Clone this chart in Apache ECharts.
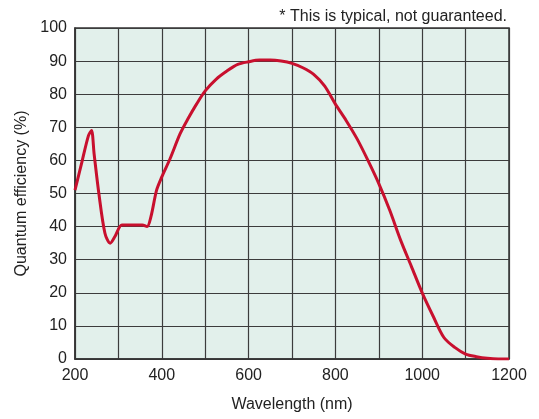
<!DOCTYPE html>
<html><head><meta charset="utf-8">
<script src="https://cdn.jsdelivr.net/npm/echarts@6/dist/echarts.min.js"></script>
<style>html,body{margin:0;padding:0;background:#fff}#c{width:539px;height:419px}</style>
</head><body><div id="c"></div>
<script>
var wavelengths = [200,215,231,238,244,255,269,281,292,308,325,342,355,366,375,388,400,419,442,460,480,500,525,550,575,600,625,650,675,700,725,750,775,800,825,850,875,900,925,950,975,1000,1025,1050,1075,1100,1125,1150,1175,1200];
var efficiency = [51,59,67.5,69,62,50,38,35,37,40.5,40.5,40.5,40.5,40,43,51,55,60.5,68,72.5,77,81,84.5,87,89,89.8,90.3,90.3,90,89.3,88,86,82.5,77,72,66.5,60,53,45,36,28,20,13,6.5,3.5,1.5,0.7,0.2,0,0];
var xTicks = [200,400,600,800,1000,1200];
var yTicks = [0,10,20,30,40,50,60,70,80,90,100];
var note = '* This is typical, not guaranteed.';

var chart = echarts.init(document.getElementById('c'));
var font = 'Liberation Sans, Arial, sans-serif';
chart.setOption({
  animation:false,
  textStyle:{fontFamily:font},
  title:{text:note,right:27,top:4,textStyle:{fontSize:16,fontWeight:'normal',color:'#222',fontFamily:font}},
  grid:{left:75,right:30,top:28,bottom:60,show:true,backgroundColor:'#e2f0eb',borderColor:'#333',borderWidth:1.5},
  xAxis:{type:'value',min:200,max:1200,interval:100,
    name:'Wavelength (nm)',nameLocation:'middle',nameGap:38,
    nameTextStyle:{fontSize:16,color:'#222',fontFamily:font},
    axisLine:{show:true,lineStyle:{color:'#333',width:1.5}},axisTick:{show:false},
    axisLabel:{fontSize:16,color:'#222',margin:9,fontFamily:font,
      formatter:function(v){return xTicks.indexOf(v)>=0?String(v):'';}},
    splitLine:{show:true,lineStyle:{color:'#3c3c3c',width:1.2}}},
  yAxis:{type:'value',min:0,max:100,interval:10,
    name:'Quantum efficiency (%)',nameLocation:'middle',nameGap:45,
    nameTextStyle:{fontSize:16,color:'#222',fontFamily:font},
    axisLine:{show:true,lineStyle:{color:'#333',width:1.5}},axisTick:{show:false},
    axisLabel:{fontSize:16,color:'#222',margin:8,fontFamily:font,
      formatter:function(v){return yTicks.indexOf(v)>=0?String(v):'';}},
    splitLine:{show:true,lineStyle:{color:'#3c3c3c',width:1.2}}},
  series:[{type:'line',data:wavelengths.map(function(w,i){return [w,efficiency[i]];}),
    showSymbol:false,smooth:0.3,lineStyle:{color:'#c8102e',width:3},clip:true}]
});
</script></body></html>
